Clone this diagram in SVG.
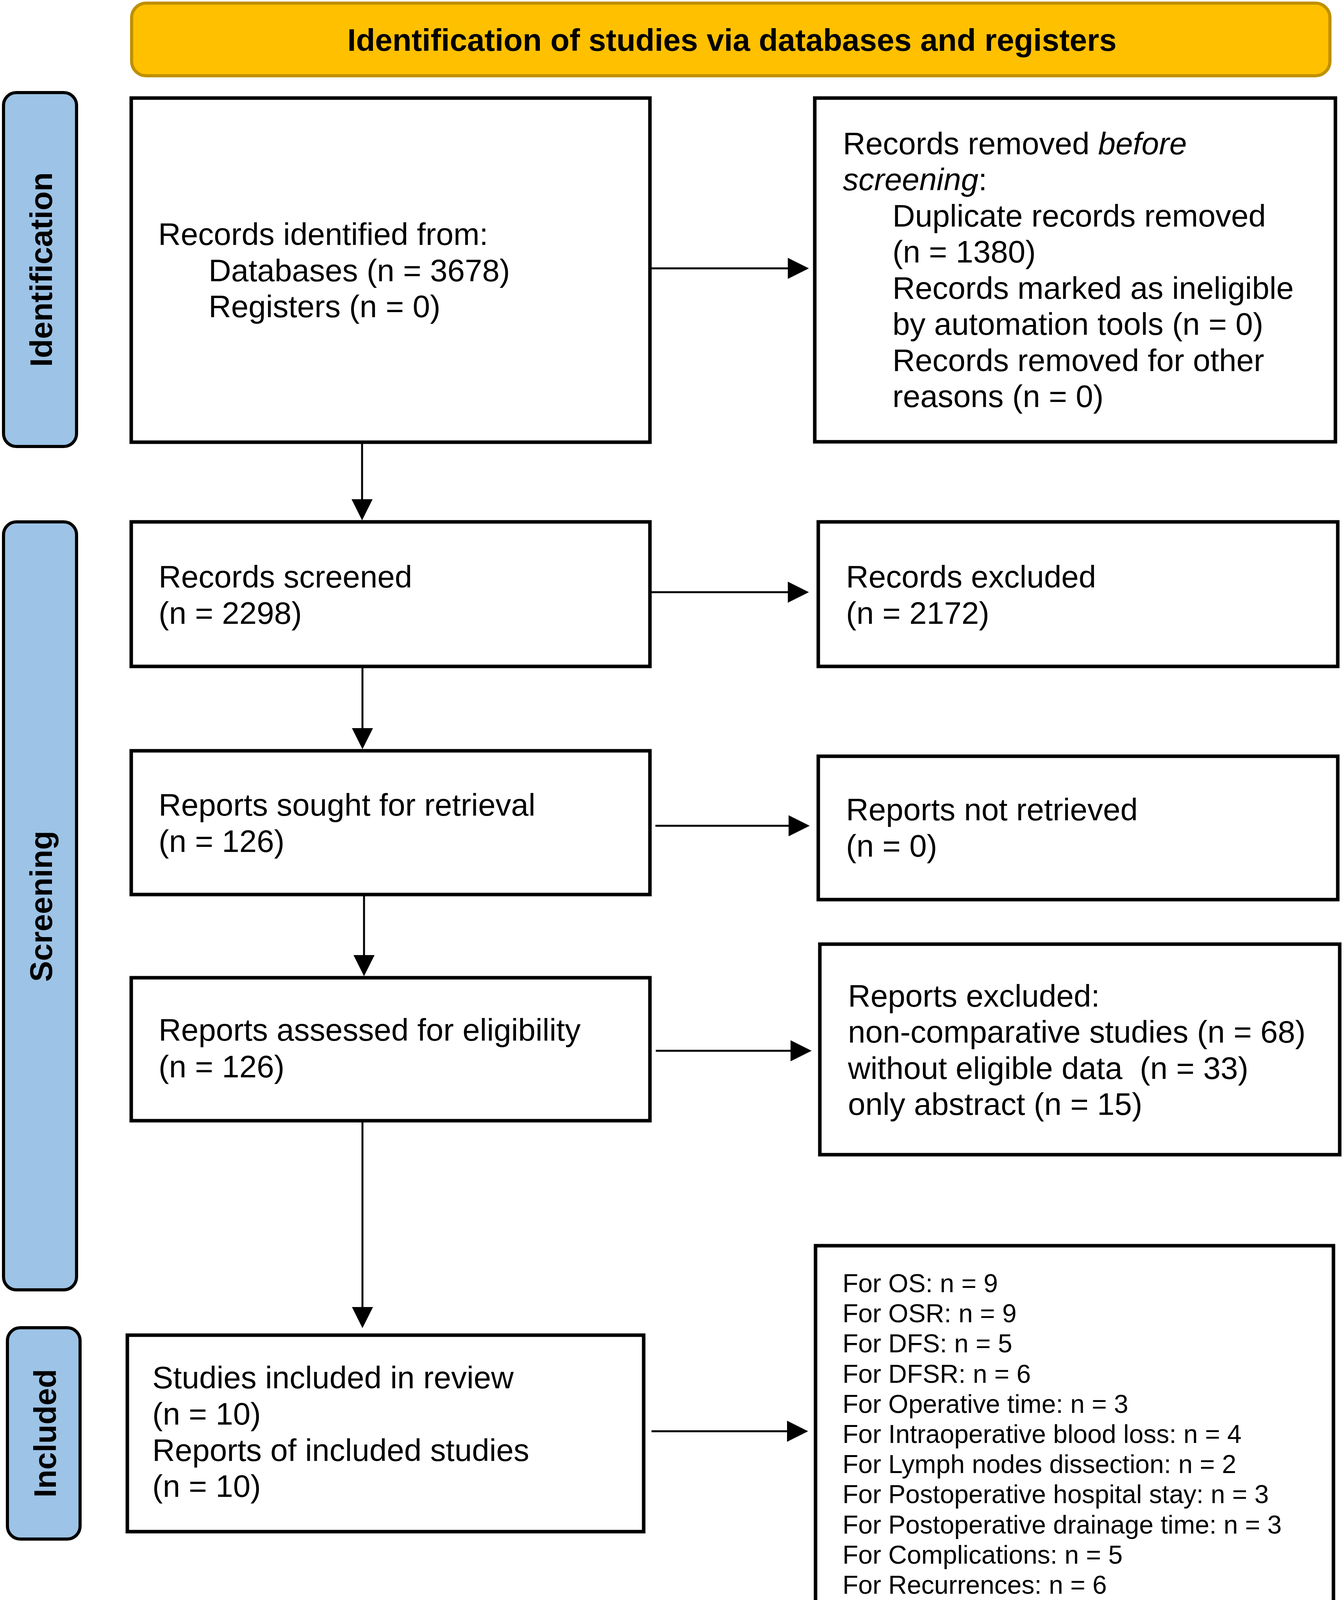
<svg xmlns="http://www.w3.org/2000/svg" width="3441" height="4163" viewBox="0 0 3441 4163">
<style>
.box{fill:#fff;stroke:#000;stroke-width:9}
.side{fill:#9DC3E6;stroke:#000;stroke-width:8}
.banner{fill:#FFC000;stroke:#BF9000;stroke-width:8}
.t{font-family:"Liberation Sans",Arial,sans-serif;font-size:80px;fill:#000}
.s{font-family:"Liberation Sans",Arial,sans-serif;font-size:66px;fill:#000}
.b{font-family:"Liberation Sans",Arial,sans-serif;font-size:80px;font-weight:bold;fill:#000;text-anchor:middle}
.ln{stroke:#000;stroke-width:5;fill:none}
.hd{fill:#000}
</style>
<rect width="3441" height="4163" fill="#fff"/>
<g id="banner">
<rect class="banner" x="337" y="8" width="3068" height="186" rx="37"/>
<text class="b" x="1874" y="130">Identification of studies via databases and registers</text>
</g>
<g id="side-identification">
<rect class="side" x="9" y="237" width="187" height="906" rx="33"/>
<text class="b" transform="translate(133,690) rotate(-90)">Identification</text>
</g>
<g id="side-screening">
<rect class="side" x="9" y="1336" width="187" height="1966" rx="33"/>
<text class="b" transform="translate(133,2320) rotate(-90)">Screening</text>
</g>
<g id="side-included">
<rect class="side" x="19" y="3399" width="186" height="541" rx="33"/>
<text class="b" transform="translate(143,3669) rotate(-90)">Included</text>
</g>
<g id="n-identified">
<rect class="box" x="336" y="251" width="1328" height="881"/>
<text class="t" x="405" y="627">Records identified from:</text>
<text class="t" x="534" y="720">Databases (n = 3678)</text>
<text class="t" x="534" y="812">Registers (n = 0)</text>
</g>
<g id="n-removed">
<rect class="box" x="2086" y="251" width="1333" height="880"/>
<text class="t" x="2158" y="395">Records removed <tspan font-style="italic">before</tspan></text>
<text class="t" x="2158" y="487"><tspan font-style="italic">screening</tspan>:</text>
<text class="t" x="2285" y="580">Duplicate records removed</text>
<text class="t" x="2285" y="672">(n = 1380)</text>
<text class="t" x="2285" y="765">Records marked as ineligible</text>
<text class="t" x="2285" y="857">by automation tools (n = 0)</text>
<text class="t" x="2285" y="950">Records removed for other</text>
<text class="t" x="2285" y="1042">reasons (n = 0)</text>
</g>
<g id="n-screened">
<rect class="box" x="336" y="1336" width="1328" height="370"/>
<text class="t" x="406" y="1504">Records screened</text>
<text class="t" x="406" y="1597">(n = 2298)</text>
</g>
<g id="n-excluded">
<rect class="box" x="2095" y="1336" width="1330" height="370"/>
<text class="t" x="2166" y="1504">Records excluded</text>
<text class="t" x="2166" y="1597">(n = 2172)</text>
</g>
<g id="n-sought">
<rect class="box" x="336" y="1922" width="1328" height="368"/>
<text class="t" x="406" y="2088">Reports sought for retrieval</text>
<text class="t" x="406" y="2181">(n = 126)</text>
</g>
<g id="n-notretrieved">
<rect class="box" x="2095" y="1936" width="1330" height="367"/>
<text class="t" x="2166" y="2100">Reports not retrieved</text>
<text class="t" x="2166" y="2193">(n = 0)</text>
</g>
<g id="n-assessed">
<rect class="box" x="336" y="2503" width="1328" height="366"/>
<text class="t" x="406" y="2664">Reports assessed for eligibility</text>
<text class="t" x="406" y="2758">(n = 126)</text>
</g>
<g id="n-reportsexcluded">
<rect class="box" x="2099" y="2417" width="1331" height="539"/>
<text class="t" x="2171" y="2577">Reports excluded:</text>
<text class="t" x="2171" y="2669">non-comparative studies (n = 68)</text>
<text class="t" x="2171" y="2762" xml:space="preserve">without eligible data  (n = 33)</text>
<text class="t" x="2171" y="2854">only abstract (n = 15)</text>
</g>
<g id="n-included">
<rect class="box" x="326" y="3418" width="1322" height="503"/>
<text class="t" x="390" y="3554">Studies included in review</text>
<text class="t" x="390" y="3647">(n = 10)</text>
<text class="t" x="390" y="3740">Reports of included studies</text>
<text class="t" x="390" y="3832">(n = 10)</text>
</g>
<g id="n-outcomes">
<rect class="box" x="2088" y="3189" width="1326" height="962"/>
<text class="s" x="2157" y="3308">For OS: n = 9</text>
<text class="s" x="2157" y="3385">For OSR: n = 9</text>
<text class="s" x="2157" y="3462">For DFS: n = 5</text>
<text class="s" x="2157" y="3540">For DFSR: n = 6</text>
<text class="s" x="2157" y="3617">For Operative time: n = 3</text>
<text class="s" x="2157" y="3694">For Intraoperative blood loss: n = 4</text>
<text class="s" x="2157" y="3771">For Lymph nodes dissection: n = 2</text>
<text class="s" x="2157" y="3848">For Postoperative hospital stay: n = 3</text>
<text class="s" x="2157" y="3926">For Postoperative drainage time: n = 3</text>
<text class="s" x="2157" y="4003">For Complications: n = 5</text>
<text class="s" x="2157" y="4080">For Recurrences: n = 6</text>
</g>
<g id="connectors">
<line class="ln" x1="1668" y1="687" x2="2020" y2="687"/>
<polygon class="hd" points="2017,660 2071,687 2017,714"/>
<line class="ln" x1="927" y1="1136" x2="927" y2="1281"/>
<polygon class="hd" points="900,1278 954,1278 927,1332"/>
<line class="ln" x1="1668" y1="1516" x2="2020" y2="1516"/>
<polygon class="hd" points="2017,1489 2071,1516 2017,1543"/>
<line class="ln" x1="928" y1="1710" x2="928" y2="1867"/>
<polygon class="hd" points="901,1864 955,1864 928,1918"/>
<line class="ln" x1="1678" y1="2114" x2="2022" y2="2114"/>
<polygon class="hd" points="2019,2087 2073,2114 2019,2141"/>
<line class="ln" x1="932" y1="2294" x2="932" y2="2448"/>
<polygon class="hd" points="905,2445 959,2445 932,2499"/>
<line class="ln" x1="1679" y1="2690" x2="2027" y2="2690"/>
<polygon class="hd" points="2024,2663 2078,2690 2024,2717"/>
<line class="ln" x1="928" y1="2873" x2="928" y2="3349"/>
<polygon class="hd" points="901,3346 955,3346 928,3400"/>
<line class="ln" x1="1668" y1="3664" x2="2018" y2="3664"/>
<polygon class="hd" points="2015,3637 2069,3664 2015,3691"/>
</g>
</svg>
